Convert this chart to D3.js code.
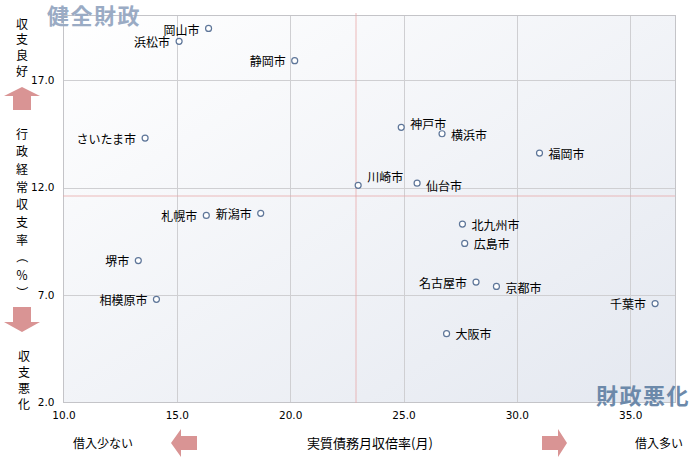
<!DOCTYPE html>
<html><head><meta charset="utf-8">
<script src="https://cdn.jsdelivr.net/npm/d3@7"></script>
<style>
html,body{margin:0;padding:0;background:#fff;}
svg{display:block;font-family:"Noto Sans CJK JP","Noto Sans",sans-serif;}
</style></head>
<body><svg id="c" width="695" height="459"></svg>
<script>
const cities = ["岡山市","浜松市","静岡市","神戸市","横浜市","川崎市","仙台市","福岡市","北九州市","広島市","さいたま市","札幌市","新潟市","堺市","相模原市","名古屋市","京都市","千葉市","大阪市"];
const debtMonths = [16.4,15.1,20.2,24.9,26.7,23.0,25.6,31.0,27.6,27.7,13.6,16.3,18.7,13.3,14.1,28.2,29.1,36.1,26.9];
const balanceRatio = [19.4,18.8,17.9,14.8,14.5,12.1,12.2,13.6,10.3,9.4,14.3,10.7,10.8,8.6,6.8,7.6,7.4,6.6,5.2];
const labelSide = ["l","l","l","r","r","r","r","r","r","r","l","l","l","l","l","l","r","l","r"];
const labelNudge = [1,0,0,-4,1,-9,2,0,0,0,0,0,0,0,0,0,1,0,0];
const xTicks = [10,15,20,25,30,35];
const yTicks = [2,7,12,17];
const xDomain = [10,37];
const yDomain = [2,20];
const meanX = 22.9;
const meanY = 11.6;

const svg = d3.select("#c");
const L=63.5, R=675.5, T=15.5, B=402.5;
const x = d3.scaleLinear().domain(xDomain).range([L,R]);
const y = d3.scaleLinear().domain(yDomain).range([B,T]);

const defs = svg.append("defs");
const g = defs.append("linearGradient").attr("id","bg").attr("x1","0").attr("y1","0").attr("x2","1").attr("y2","1");
g.append("stop").attr("offset","0").attr("stop-color","#ffffff");
g.append("stop").attr("offset","1").attr("stop-color","#e4e8f0");
svg.append("rect").attr("x",L).attr("y",T).attr("width",R-L).attr("height",B-T).attr("fill","url(#bg)");

// grid
svg.append("g").selectAll("line").data(xTicks.slice(1)).join("line")
  .attr("x1",d=>Math.round(x(d))+0.5).attr("x2",d=>Math.round(x(d))+0.5).attr("y1",T).attr("y2",B)
  .attr("stroke","#cfcfd2").attr("stroke-width",1);
svg.append("g").selectAll("line").data(yTicks.slice(1)).join("line")
  .attr("y1",d=>Math.round(y(d))+0.5).attr("y2",d=>Math.round(y(d))+0.5).attr("x1",L).attr("x2",R)
  .attr("stroke","#cfcfd2").attr("stroke-width",1);
svg.append("rect").attr("x",L).attr("y",T).attr("width",R-L).attr("height",B-T).attr("fill","none").attr("stroke","#c4c4c8");

// mean lines
svg.append("line").attr("x1",Math.round(x(meanX))).attr("x2",Math.round(x(meanX))).attr("y1",T-2).attr("y2",B)
  .attr("stroke","#e6a4a4").attr("stroke-width",1.5).attr("stroke-dasharray","1,1");
svg.append("line").attr("y1",Math.round(y(meanY))).attr("y2",Math.round(y(meanY))).attr("x1",L).attr("x2",R)
  .attr("stroke","#e6a4a4").attr("stroke-width",1.5).attr("stroke-dasharray","1,1");

// axes
const xa = svg.append("g").attr("transform",`translate(0,${B})`)
  .call(d3.axisBottom(x).tickValues(xTicks).tickFormat(d3.format(".1f")).tickSize(0).tickPadding(9));
xa.select(".domain").remove();
xa.selectAll("text").attr("font-size","10.5px").attr("fill","#000").attr("font-family","'DejaVu Sans',sans-serif");
const ya = svg.append("g").attr("transform",`translate(${L},0)`)
  .call(d3.axisLeft(y).tickValues(yTicks).tickFormat(d3.format(".1f")).tickSize(0).tickPadding(9));
ya.select(".domain").remove();
ya.selectAll("text").attr("font-size","10.5px").attr("fill","#000").attr("font-family","'DejaVu Sans',sans-serif");

// points
const pts = cities.map((c,i)=>({c, x:debtMonths[i], y:balanceRatio[i], s:labelSide[i], n:labelNudge[i]}));
svg.append("g").selectAll("circle").data(pts).join("circle")
  .attr("cx",d=>x(d.x)).attr("cy",d=>y(d.y)).attr("r",3)
  .attr("fill","#fff").attr("stroke","#5e7699").attr("stroke-width",1.2);
svg.append("g").selectAll("text").data(pts).join("text")
  .attr("x",d=>x(d.x)+(d.s==="l"?-9:9)).attr("y",d=>y(d.y)+d.n)
  .attr("text-anchor",d=>d.s==="l"?"end":"start").attr("dominant-baseline","central")
  .attr("font-size","12px").attr("fill","#000").text(d=>d.c);

// big labels
svg.append("text").attr("x",47).attr("y",14).attr("dominant-baseline","central")
  .attr("font-size","22px").attr("font-weight","bold").attr("fill","#9aabc4").attr("letter-spacing","1.5").text("健全財政");
svg.append("text").attr("x",690).attr("y",394).attr("text-anchor","end").attr("dominant-baseline","central")
  .attr("font-size","22px").attr("font-weight","bold").attr("fill","#6c89aa").attr("letter-spacing","1.5").text("財政悪化");

// vertical texts
function vtext(chars, cx, y0, step){
  svg.append("g").selectAll("text").data(Array.from(chars)).join("text")
   .attr("x",cx).attr("y",(d,i)=>y0+i*step).attr("text-anchor","middle").attr("dominant-baseline","central")
   .attr("font-size","12px").attr("fill","#000")
   .attr("transform",(d,i)=> (d==="（"||d==="）") ? `rotate(90,${cx},${y0+i*step})` : null)
   .text(d=>d);
}
vtext("収支良好",22,23,15.7);
vtext("行政経常収支率（％）",22,133,17.7);
vtext("収支悪化",24,355,16);

// arrows
const arrowColor = "#d99494";
svg.append("path").attr("fill",arrowColor).attr("d","M22,87 L40,96 L31,96 L31,110 L13,110 L13,96 L4,96 Z");
svg.append("path").attr("fill",arrowColor).attr("d","M22,332 L40,322 L31,322 L31,307 L13,307 L13,322 L4,322 Z");
svg.append("path").attr("fill",arrowColor).attr("d","M171,443 L181,429 L181,436 L197,436 L197,450 L181,450 L181,457 Z");
svg.append("path").attr("fill",arrowColor).attr("d","M567,443 L558,429 L558,436 L542,436 L542,450 L558,450 L558,457 Z");

svg.append("text").attr("x",370).attr("y",442).attr("text-anchor","middle").attr("dominant-baseline","central")
  .attr("font-size","13px").attr("fill","#000").text("実質債務月収倍率(月)");
svg.append("text").attr("x",103).attr("y",442).attr("text-anchor","middle").attr("dominant-baseline","central")
  .attr("font-size","12px").attr("fill","#000").text("借入少ない");
svg.append("text").attr("x",659).attr("y",442).attr("text-anchor","middle").attr("dominant-baseline","central")
  .attr("font-size","12px").attr("fill","#000").text("借入多い");
</script></body></html>
